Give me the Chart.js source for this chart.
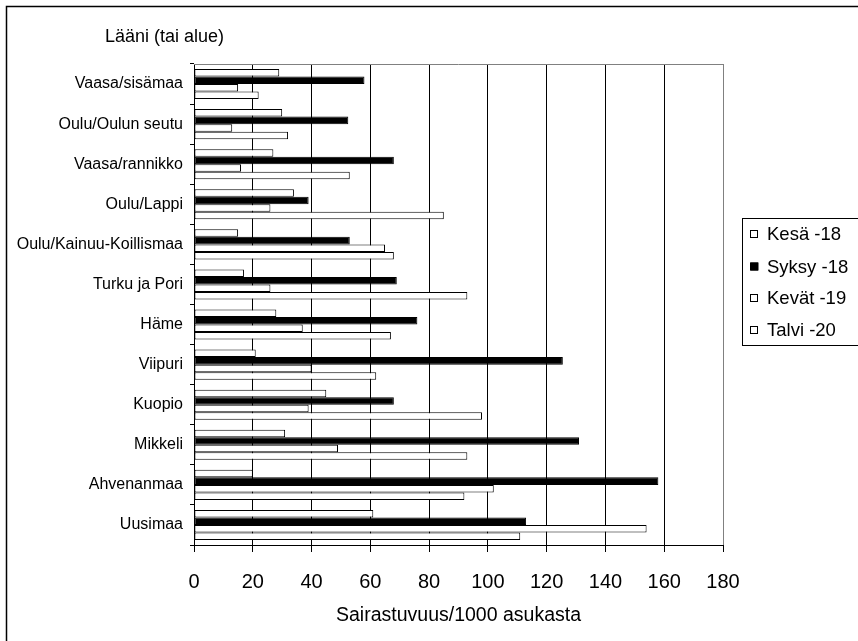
<!DOCTYPE html>
<html lang="fi">
<head>
<meta charset="utf-8">
<title>Sairastuvuus lääneittäin</title>
<script src="https://cdn.jsdelivr.net/npm/chart.js@4/dist/chart.umd.min.js"></script>
<style>
  html, body { margin: 0; padding: 0; background: #fff; }
  canvas { display: block; }
</style>
</head>
<body>
<canvas id="chart" width="858" height="641"></canvas>
<script>
// Regions, listed from top to bottom
const regions = [
  'Vaasa/sisämaa', 'Oulu/Oulun seutu', 'Vaasa/rannikko', 'Oulu/Lappi',
  'Oulu/Kainuu-Koillismaa', 'Turku ja Pori', 'Häme', 'Viipuri',
  'Kuopio', 'Mikkeli', 'Ahvenanmaa', 'Uusimaa'
];

// Morbidity per 1000 inhabitants for each wave
const kesa18  = [29, 30, 27, 34, 15, 17, 28, 21, 45, 31, 20, 61];
const syksy18 = [58, 52.5, 68, 39, 53, 69, 76, 125.5, 68, 131, 158, 113];
const kevat19 = [15, 13, 16, 26, 65, 26, 37, 40, 39, 49, 102, 154];
const talvi20 = [22, 32, 53, 85, 68, 93, 67, 62, 98, 93, 92, 111];

const seriesNames = ['Kesä -18', 'Syksy -18', 'Kevät -19', 'Talvi -20'];
const xTicks = [0, 20, 40, 60, 80, 100, 120, 140, 160, 180];

const FONT = "'Liberation Sans', Arial, sans-serif";

function series(label, data, fill) {
  return {
    label, data,
    backgroundColor: fill,
    borderColor: '#000',
    borderWidth: 1,
    borderSkipped: false,
    categoryPercentage: 0.75,
    barPercentage: 1.0
  };
}

// Outer frame, axis caption, plot-area top edge and the boxed legend
const decorations = {
  id: 'decorations',
  beforeDraw(chart) {
    const c = chart.ctx;
    c.save();
    c.fillStyle = '#fff';
    c.fillRect(0, 0, chart.width, chart.height);
    c.restore();
  },
  afterDraw(chart) {
    const c = chart.ctx;
    const area = chart.chartArea;
    c.save();

    // frame around the whole figure
    c.strokeStyle = '#000';
    c.lineWidth = 1.5;
    c.beginPath();
    c.moveTo(6.5, chart.height + 5);
    c.lineTo(6.5, 6.5);
    c.lineTo(chart.width + 5, 6.5);
    c.stroke();

    // top edge of the plot area
    c.strokeStyle = '#808080';
    c.lineWidth = 1;
    c.beginPath();
    c.moveTo(area.left, Math.round(area.top) + 0.5);
    c.lineTo(area.right, Math.round(area.top) + 0.5);
    c.stroke();

    // category axis caption
    c.fillStyle = '#000';
    c.font = '18px ' + FONT;
    c.textAlign = 'left';
    c.textBaseline = 'alphabetic';
    c.fillText('Lääni (tai alue)', 105, 42);

    // legend box
    c.strokeStyle = '#000';
    c.lineWidth = 1;
    c.strokeRect(742.5, 218.5, 140, 127);
    c.font = '18.5px ' + FONT;
    c.textBaseline = 'middle';
    const rowY = [234, 266.5, 298, 330];
    chart.data.datasets.forEach((ds, i) => {
      const y = rowY[i];
      c.fillStyle = ds.backgroundColor;
      c.fillRect(750.5, y - 4, 8, 8);
      c.strokeStyle = '#000';
      c.strokeRect(750.5, y - 3.5, 7, 7);
      c.fillStyle = '#000';
      c.fillText(ds.label, 767, y + 1);
    });
    c.restore();
  }
};

new Chart(document.getElementById('chart'), {
  type: 'bar',
  data: {
    labels: regions,
    datasets: [
      series(seriesNames[0], kesa18, '#ffffff'),
      series(seriesNames[1], syksy18, '#000000'),
      series(seriesNames[2], kevat19, '#ffffff'),
      series(seriesNames[3], talvi20, '#ffffff')
    ]
  },
  options: {
    indexAxis: 'y',
    responsive: false,
    animation: false,
    devicePixelRatio: 1,
    layout: { padding: { left: 0, top: 64, right: 135, bottom: 0 } },
    plugins: {
      legend: { display: false },
      title: { display: false },
      tooltip: { enabled: false }
    },
    scales: {
      x: {
        type: 'linear',
        position: 'bottom',
        min: 0,
        max: 180,
        afterBuildTicks(scale) {
          scale.ticks = xTicks.map(v => ({ value: v }));
        },
        afterFit(scale) { scale.height = 96; },
        border: { display: true, color: '#000', width: 1 },
        grid: {
          display: true,
          drawOnChartArea: true,
          drawTicks: true,
          tickLength: 7,
          color: ctx => (ctx.tick && ctx.tick.value === 180) ? '#808080' : '#000',
          tickColor: '#000',
          lineWidth: 1
        },
        ticks: {
          color: '#000',
          padding: 18,
          font: { family: FONT, size: 20 },
          maxRotation: 0
        },
        title: {
          display: true,
          text: 'Sairastuvuus/1000 asukasta',
          color: '#000',
          font: { family: FONT, size: 19.5 },
          padding: { top: 0, bottom: 14 }
        }
      },
      y: {
        type: 'category',
        position: 'left',
        afterFit(scale) { scale.width = 194; },
        border: { display: true, color: '#000', width: 1 },
        grid: {
          display: true,
          offset: true,
          drawOnChartArea: false,
          drawTicks: true,
          tickLength: 4,
          tickColor: '#000',
          color: '#000'
        },
        ticks: {
          color: '#000',
          padding: 7,
          autoSkip: false,
          font: { family: FONT, size: 16 }
        }
      }
    }
  },
  plugins: [decorations]
});
</script>
</body>
</html>
